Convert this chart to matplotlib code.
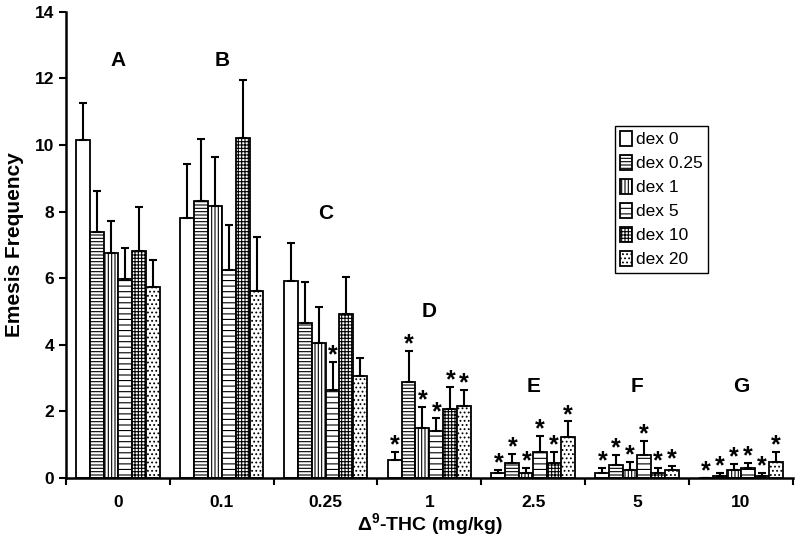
import numpy as np
import matplotlib.pyplot as plt

plt.rcParams['font.family'] = ['Liberation Sans', 'DejaVu Sans']
plt.rcParams['mathtext.fontset'] = 'custom'
plt.rcParams['mathtext.rm'] = 'Liberation Sans'
plt.rcParams['mathtext.bf'] = 'Liberation Sans:bold'
plt.rcParams['hatch.linewidth'] = 0.8

# THC doses (x groups) and dex doses (series)
thc_doses = ['0', '0.1', '0.25', '1', '2.5', '5', '10']
group_letters = ['A', 'B', 'C', 'D', 'E', 'F', 'G']
letter_y = [12.55, 12.55, 7.95, 5.0, 2.75, 2.75, 2.75]
dex_labels = ['dex 0', 'dex 0.25', 'dex 1', 'dex 5', 'dex 10', 'dex 20']

# mean emesis frequency, one list per dex dose (across THC groups)
dex0 = [10.15, 7.82, 5.91, 0.53, 0.15, 0.16, 0.0]
dex025 = [7.40, 8.33, 4.66, 2.90, 0.44, 0.39, 0.07]
dex1 = [6.76, 8.17, 4.07, 1.49, 0.15, 0.24, 0.24]
dex5 = [5.99, 6.25, 2.65, 1.41, 0.78, 0.68, 0.31]
dex10 = [6.83, 10.22, 4.93, 2.08, 0.45, 0.16, 0.07]
dex20 = [5.74, 5.63, 3.07, 2.17, 1.24, 0.23, 0.48]

# SEM (upper error bars)
sem0 = [1.10, 1.61, 1.16, 0.26, 0.10, 0.15, 0.0]
sem025 = [1.22, 1.84, 1.22, 0.91, 0.29, 0.29, 0.09]
sem1 = [0.96, 1.46, 1.07, 0.65, 0.16, 0.25, 0.17]
sem5 = [0.93, 1.36, 0.83, 0.38, 0.49, 0.43, 0.15]
sem10 = [1.32, 1.74, 1.12, 0.65, 0.33, 0.15, 0.08]
sem20 = [0.81, 1.62, 0.53, 0.49, 0.46, 0.12, 0.30]

# significance stars (1 = starred)
star0 = [0, 0, 0, 1, 1, 1, 1]
star025 = [0, 0, 0, 1, 1, 1, 1]
star1 = [0, 0, 0, 1, 1, 1, 1]
star5 = [0, 0, 1, 1, 1, 1, 1]
star10 = [0, 0, 0, 1, 1, 1, 1]
star20 = [0, 0, 0, 1, 1, 1, 1]

means = [dex0, dex025, dex1, dex5, dex10, dex20]
sems = [sem0, sem025, sem1, sem5, sem10, sem20]
stars = [star0, star025, star1, star5, star10, star20]
hatches = ['', '-----', '|||||', '---', '+++++', '....']

fig = plt.figure(figsize=(8, 5.36), dpi=100)
ax = fig.add_axes([0.0825, 0.108, 0.9085, 0.87])

x = np.arange(len(thc_doses))
w = 0.134
for i in range(6):
    pos = x + (i - 2.5) * w
    ax.bar(pos, means[i], w, color='white', edgecolor='black', linewidth=1.3,
           hatch=hatches[i], label=dex_labels[i], zorder=2)
    ax.errorbar(pos, means[i], yerr=[np.zeros(len(x)), sems[i]], fmt='none',
                ecolor='black', elinewidth=1.5, capsize=3, capthick=1.5, zorder=3)
    for j in range(len(x)):
        if stars[i][j]:
            ax.text(pos[j], means[i][j] + sems[i][j] + 0.2, '*', ha='center',
                    va='center', fontsize=18, fontweight='bold')

for j in range(len(x)):
    ax.text(x[j], letter_y[j], group_letters[j], ha='center', va='center',
            fontsize=15, fontweight='bold')

ax.set_xlim(-0.5, 6.5)
ax.set_ylim(0, 14)
ax.set_yticks(range(0, 15, 2))
ax.set_xticks(x)
ax.set_xticklabels(thc_doses)
ax.set_xticks(np.arange(-0.5, 7, 1), minor=True)
ax.tick_params(axis='x', which='major', length=0, pad=12, labelsize=12.5)
ax.tick_params(axis='x', which='minor', length=5, width=1.5, direction='out')
ax.tick_params(axis='y', length=5, width=1.5, labelsize=12.5)
for lab in ax.get_xticklabels() + ax.get_yticklabels():
    lab.set_fontweight('bold')

ax.spines['top'].set_visible(False)
ax.spines['right'].set_visible(False)
ax.spines['left'].set_linewidth(1.8)
ax.spines['bottom'].set_linewidth(1.8)

ax.set_ylabel('Emesis Frequency', fontsize=15, fontweight='bold', labelpad=8)
ax.set_xlabel(r'$\mathbf{\Delta^{9}}$-THC (mg/kg)', fontsize=14,
              fontweight='bold', labelpad=1)

leg = ax.legend(loc='upper left', bbox_to_anchor=(0.755, 0.755), fontsize=12.5,
                fancybox=False, edgecolor='black', framealpha=1,
                handlelength=0.7, handleheight=0.9, handletextpad=0.2,
                labelspacing=0.45, borderpad=0.3, borderaxespad=0)
leg.get_frame().set_linewidth(1.0)

fig.savefig('out.png', dpi=100)
